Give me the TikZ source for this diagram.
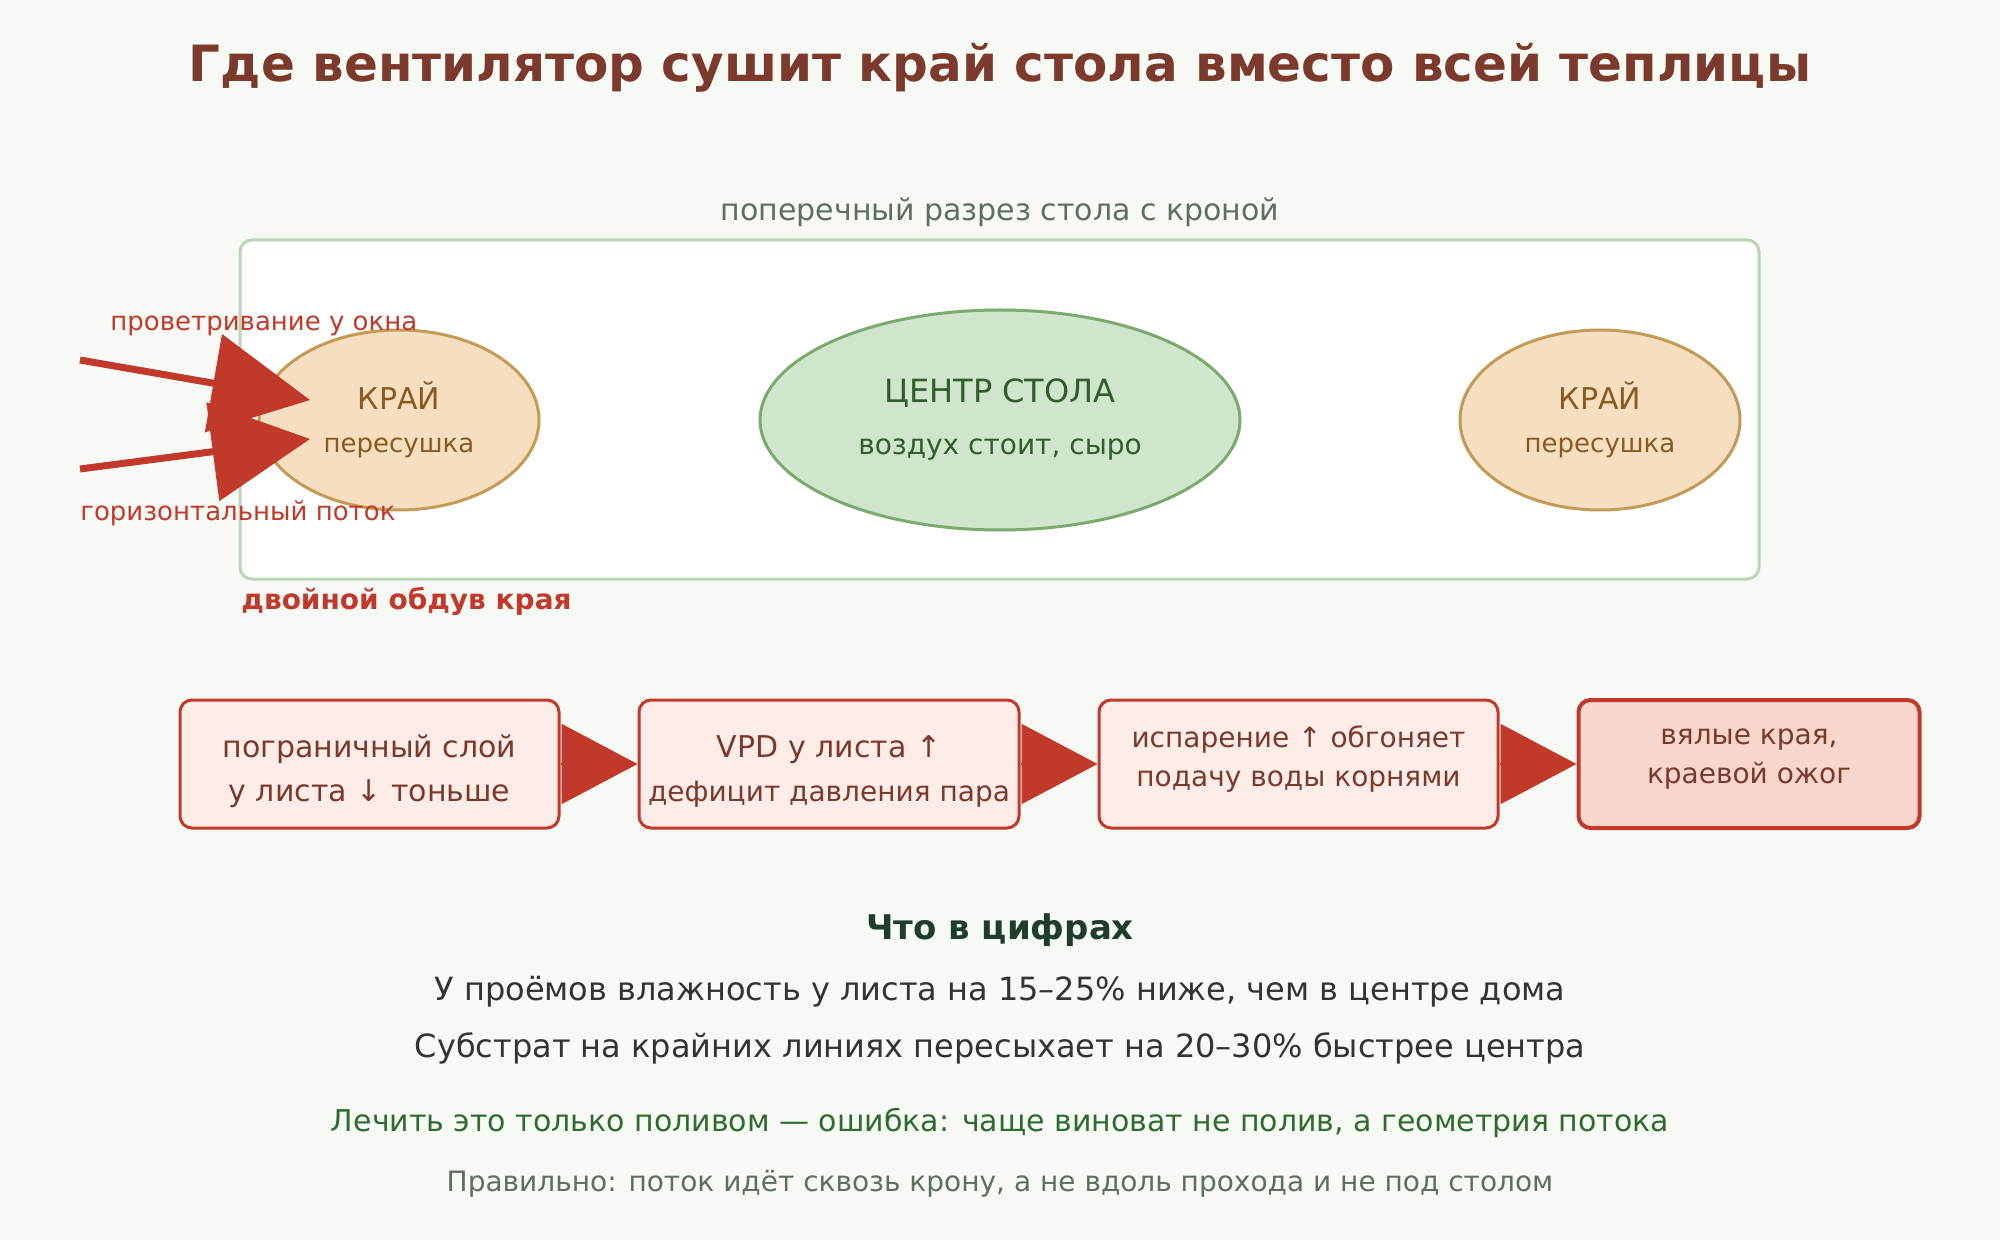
\documentclass[tikz,border=0pt]{standalone}
\usepackage{fontspec}
\setmainfont{DejaVu Sans}
\usetikzlibrary{arrows.meta,positioning,shapes.geometric,calc}
\definecolor{BgClr}{HTML}{F7F9F5}
\definecolor{TitleClr}{HTML}{7B3A2C}
\definecolor{SubClr}{HTML}{5F6F5F}
\definecolor{PanelClr}{HTML}{BAD6B6}
\definecolor{EdgeFill}{HTML}{F5DFC0}
\definecolor{EdgeLine}{HTML}{C49A55}
\definecolor{EdgeText}{HTML}{8A5A1E}
\definecolor{MidFill}{HTML}{D0E6CC}
\definecolor{MidLine}{HTML}{7AAA6E}
\definecolor{MidText}{HTML}{2F5E2A}
\definecolor{FlowClr}{HTML}{C0392B}
\definecolor{BoxFill}{HTML}{FDECE8}
\definecolor{LastFill}{HTML}{F7D6CC}
\definecolor{NumHead}{HTML}{1E3D2A}
\definecolor{NumText}{HTML}{333333}
\definecolor{AdviceClr}{HTML}{2E6B2E}
\newcommand{\fsz}[2]{\fontsize{#1}{#2}\selectfont}

\begin{document}
\begin{tikzpicture}[x=0.5pt,y=-0.5pt,node distance=38.5pt,
  edgeblob/.style={ellipse,draw=EdgeLine,fill=EdgeFill,line width=1.5pt,
    minimum width=140pt,minimum height=90pt,text=EdgeText,align=center,inner sep=0pt,
    font=\fsz{15pt}{21.5pt}},
  midblob/.style={ellipse,draw=MidLine,fill=MidFill,line width=1.5pt,
    minimum width=240pt,minimum height=110pt,text=MidText,align=center,inner sep=0pt,
    font=\fsz{16pt}{26pt}},
  flowbox/.style={draw=FlowClr,fill=BoxFill,line width=1.5pt,rounded corners=6pt,
    minimum height=64pt,inner sep=0pt},
  boxtxt/.style={text=TitleClr,align=center,inner sep=0pt},
  sidenote/.style={text=FlowClr,inner sep=0pt,anchor=west},
  airflow/.style={FlowClr,line width=3.5pt,-{Triangle[length=49pt,width=49pt]}},
  chain/.style={FlowClr,line width=1pt,-{Triangle[length=38pt,width=40pt]}}]
\fill[BgClr] (0,0) rectangle (2000,1240);
\useasboundingbox (0,0) rectangle (2000,1240);

% title
\node[text=TitleClr,font=\fsz{25pt}{30pt}\bfseries] (title) at (1000,68)
  {Где вентилятор сушит край стола вместо всей теплицы};

% cross-section
\node[text=SubClr,font=\fsz{15pt}{18pt}] (cut) at (1000,212) {поперечный разрез стола с кроной};
\draw[PanelClr,line width=1.5pt,rounded corners=6pt,fill=white] (240,240) rectangle (1759,579);

\node[edgeblob] (leftEdge) at (399,420) {КРАЙ\\\fsz{13pt}{21.5pt}пересушка};
\node[midblob] (middle) at (1000,420) {ЦЕНТР СТОЛА\\\fsz{14pt}{26pt}воздух стоит, сыро};
\node[edgeblob] (rightEdge) at (1600,420) {КРАЙ\\\fsz{13pt}{21.5pt}пересушка};

\coordinate (ventA) at (80,360);
\coordinate (ventB) at (80,469);
\coordinate (hitA) at ($(leftEdge.center)+(-89,-20)$);
\coordinate (hitB) at ($(leftEdge.center)+(-89,19)$);
\draw[airflow] (ventA) -- (hitA);
\draw[airflow] (ventB) -- (hitB);
\node[sidenote,font=\fsz{13pt}{15pt}] (ventLbl) at (110,326) {проветривание у окна};
\node[sidenote,font=\fsz{13pt}{15pt}] (flowLbl) at (80,513) {горизонтальный поток};
\node[sidenote,font=\fsz{14pt}{17pt}\bfseries] (twice) at (241,601) {двойной обдув края};

% cause chain
\node[flowbox,minimum width=189.5pt] (layer) at (369.5,764) {};
\node[flowbox,minimum width=190pt,right=of layer] (vpd) {};
\node[flowbox,minimum width=199.5pt,right=of vpd] (evap) {};
\node[flowbox,fill=LastFill,line width=2pt,minimum width=170.5pt,right=of evap] (burn) {};
\node[boxtxt,font=\fsz{15pt}{22pt}] (layerTxt) at ($(layer.center)+(0,7)$) {пограничный слой\\у листа ↓ тоньше};
\node[boxtxt,font=\fsz{15pt}{22pt}] (vpdTxt) at ($(vpd.center)+(0,7)$) {VPD у листа ↑\\\fsz{14pt}{22pt}дефицит давления пара};
\node[boxtxt,font=\fsz{14pt}{19.5pt}] (evapTxt) at ($(evap.center)+(0,-5)$) {испарение ↑ обгоняет\\подачу воды корнями};
\node[boxtxt,font=\fsz{14pt}{19.5pt}] (burnTxt) at ($(burn.center)+(0,-5)$) {вялые края,\\краевой ожог};
\draw[chain] (layer) -- (vpd);
\draw[chain] (vpd) -- (evap);
\draw[chain] (evap) -- (burn);

% numbers
\node[text=NumHead,font=\fsz{17pt}{20pt}\bfseries] (numHead) at (1000,930) {Что в цифрах};
\node[text=NumText,font=\fsz{16pt}{19pt}] (numA) at (1000,992) {У проёмов влажность у листа на 15–25\% ниже, чем в центре дома};
\node[text=NumText,font=\fsz{16pt}{19pt}] (numB) at (1000,1048) {Субстрат на крайних линиях пересыхает на 20–30\% быстрее центра};
\node[text=AdviceClr,font=\fsz{15pt}{18pt}] (advice) at (1000,1123) {Лечить это только поливом — ошибка: чаще виноват не полив, а геометрия потока};
\node[text=SubClr,font=\fsz{14pt}{17pt}] (rightWay) at (1000,1184) {Правильно: поток идёт сквозь крону, а не вдоль прохода и не под столом};
\end{tikzpicture}
\end{document}
